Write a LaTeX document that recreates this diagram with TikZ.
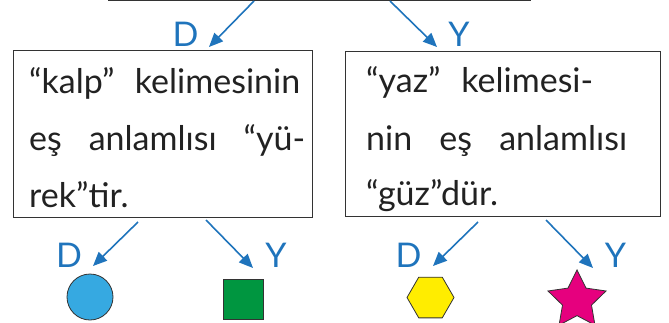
\documentclass[tikz,border=0pt]{standalone}
\usepackage{fontspec}
\setmainfont{Lato}
\usetikzlibrary{arrows.meta,shapes.geometric}
\definecolor{arrblue}{HTML}{1F74BC}
\definecolor{boxline}{HTML}{333333}
\definecolor{txt}{HTML}{222222}
\definecolor{cblue}{HTML}{36A9E1}
\definecolor{cgreen}{HTML}{009640}
\definecolor{cyellow}{HTML}{FFED00}
\definecolor{cpink}{HTML}{E6007E}
\tikzset{
  box/.style={draw=boxline, line width=1.2pt, inner sep=0pt},
  arr/.style={draw=arrblue, line width=1.6pt, -{Triangle[length=14pt,width=12pt]}},
  lbl/.style={text=arrblue, font=\fontsize{34}{34}\selectfont, inner sep=0pt},
  txtline/.style={text=txt, font=\fontsize{34}{40}\selectfont, inner sep=0pt, anchor=base west},
  shapeline/.style={draw=black!80, line width=0.8pt, inner sep=0pt}
}
\begin{document}
\begin{tikzpicture}[x=1pt,y=-1pt]
\useasboundingbox (0,0) rectangle (669,322);
\clip (0,0) rectangle (669,322);
% boxes
\node[box, minimum width=422pt, minimum height=40pt, anchor=south west] (top) at (108,1) {};
\node[box, minimum width=299pt, minimum height=167pt, anchor=north west] (lbox) at (12.7,50) {};
\node[box, minimum width=315pt, minimum height=165.5pt, anchor=north west] (rbox) at (345,50.7) {};
% texts
\node[txtline] (l1) at (29,93) {\makebox[271pt][s]{“kalp” kelimesinin}};
\node[txtline] (l2) at (29,150) {\makebox[276pt][s]{eş anlamlısı “yü-}};
\node[txtline] (l3) at (29,207) {rek”tir.};
\node[txtline] (r1) at (366,92) {\makebox[227pt][s]{“yaz” kelimesi-}};
\node[txtline] (r2) at (366,150) {\makebox[261pt][s]{nin eş anlamlısı}};
\node[txtline] (r3) at (366,205) {“güz”dür.};
% top arrows
\coordinate (t1s) at (254,1);
\coordinate (t1e) at (209,47);
\coordinate (t2s) at (390,1);
\coordinate (t2e) at (437,47);
\draw[arr] (t1s) -- (t1e);
\draw[arr] (t2s) -- (t2e);
\node[lbl] (tD) at (185.5,34.5) {D};
\node[lbl] (tY) at (459,34.5) {Y};
% bottom arrows
\coordinate (b1s) at (138,222);
\coordinate (b1e) at (93,266);
\coordinate (b2s) at (206,220);
\coordinate (b2e) at (253,268);
\coordinate (b3s) at (478,222);
\coordinate (b3e) at (433,266);
\coordinate (b4s) at (546,220);
\coordinate (b4e) at (593,268);
\draw[arr] (b1s) -- (b1e);
\draw[arr] (b2s) -- (b2e);
\draw[arr] (b3s) -- (b3e);
\draw[arr] (b4s) -- (b4e);
\node[lbl] (bD1) at (69,255.5) {D};
\node[lbl] (bY1) at (276,255.5) {Y};
\node[lbl] (bD2) at (408.5,255.5) {D};
\node[lbl] (bY2) at (615.5,255.5) {Y};
% shapes
\node[shapeline, circle, fill=cblue, minimum size=46pt] (circ) at (90,297) {};
\node[shapeline, rectangle, fill=cgreen, minimum size=40pt] (sq) at (243,299) {};
\node[shapeline, regular polygon, regular polygon sides=6, fill=cyellow, minimum size=47pt] (hex) at (430.5,297.5) {};
\node[shapeline, star, star points=5, star point ratio=2.0, fill=cpink, minimum size=61pt] (st) at (577,300.4) {};
\end{tikzpicture}
\end{document}
